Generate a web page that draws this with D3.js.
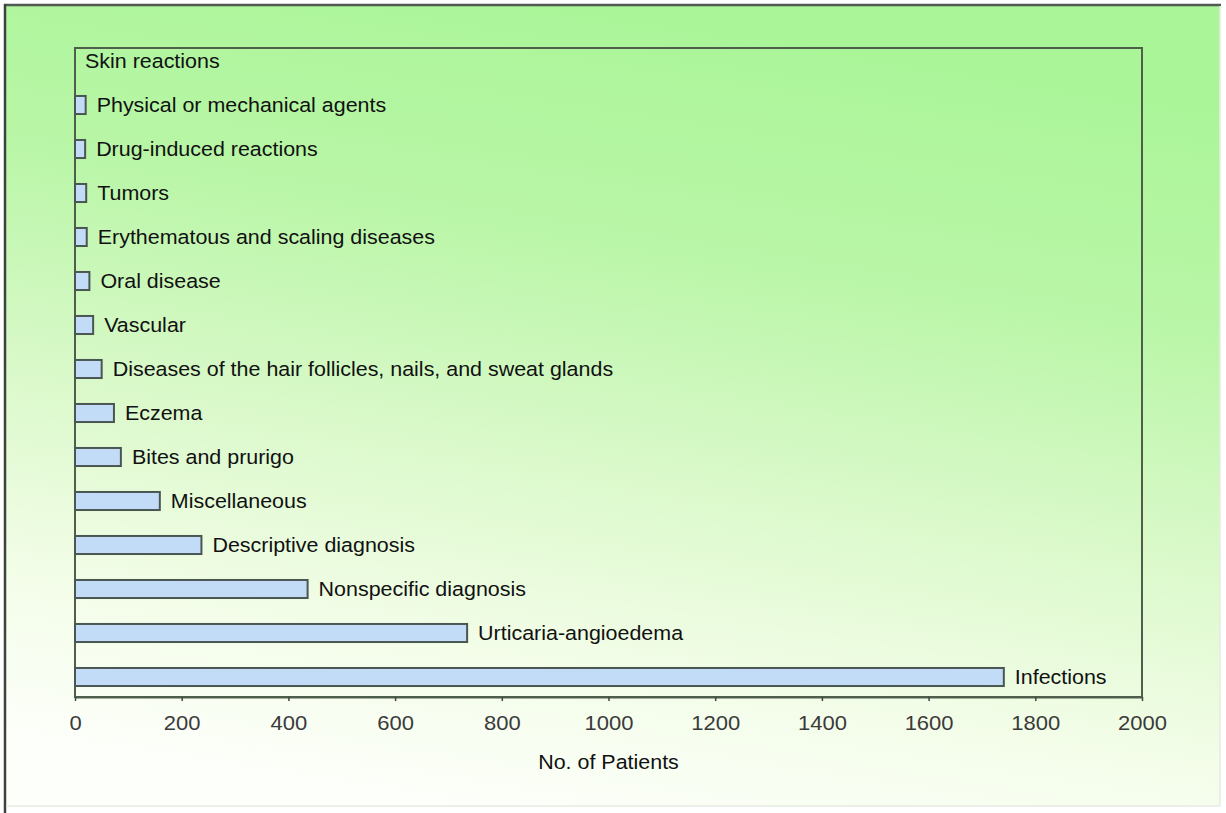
<!DOCTYPE html>
<html>
<head>
<meta charset="utf-8">
<script src="https://cdn.jsdelivr.net/npm/d3@7"></script>
<style>
  html, body { margin: 0; padding: 0; background: #ffffff; }
  svg { display: block; }
  text { font-family: "Liberation Sans", Arial, Helvetica, sans-serif; }
</style>
</head>
<body>
<svg id="chart" width="1226" height="813"></svg>
<script>
// ---- data ----
const categories = [
  "Skin reactions",
  "Physical or mechanical agents",
  "Drug-induced reactions",
  "Tumors",
  "Erythematous and scaling diseases",
  "Oral disease",
  "Vascular",
  "Diseases of the hair follicles, nails, and sweat glands",
  "Eczema",
  "Bites and prurigo",
  "Miscellaneous",
  "Descriptive diagnosis",
  "Nonspecific diagnosis",
  "Urticaria-angioedema",
  "Infections"
];
const patients = [null, 20, 19, 21, 22, 27, 34, 50, 73, 86, 159, 237, 436, 735, 1741];
const xTicks = [0, 200, 400, 600, 800, 1000, 1200, 1400, 1600, 1800, 2000];
const xTitle = "No. of Patients";

// ---- layout ----
const W = 1226, H = 813;
const plot = { left: 75, right: 1142, top: 48, bottom: 697 };
const svg = d3.select("#chart");

const defs = svg.append("defs");
const grad = defs.append("linearGradient").attr("id", "bg")
  .attr("x1", "62%").attr("y1", "0%").attr("x2", "38%").attr("y2", "100%");
grad.append("stop").attr("offset", "0%").attr("stop-color", "#a9f597");
grad.append("stop").attr("offset", "30%").attr("stop-color", "#b9f6a7");
grad.append("stop").attr("offset", "58%").attr("stop-color", "#dbf9cb");
grad.append("stop").attr("offset", "80%").attr("stop-color", "#f2fde7");
grad.append("stop").attr("offset", "100%").attr("stop-color", "#fdfffa");

svg.append("rect").attr("x", 0).attr("y", 0).attr("width", W).attr("height", H).attr("fill", "#ffffff");
svg.append("rect").attr("x", 5).attr("y", 5).attr("width", 1215).attr("height", 801).attr("fill", "url(#bg)");
// bevel frame
svg.append("line").attr("x1", 4).attr("y1", 5).attr("x2", 1221).attr("y2", 5).attr("stroke", "#505a50").attr("stroke-width", 2.5);
svg.append("line").attr("x1", 5).attr("y1", 4).attr("x2", 5).attr("y2", 813).attr("stroke", "#3c423c").attr("stroke-width", 2.5);
svg.append("line").attr("x1", 1220).attr("y1", 6).attr("x2", 1220).attr("y2", 806).attr("stroke", "#e6ebe2").attr("stroke-width", 1.5);
svg.append("line").attr("x1", 6).attr("y1", 806).attr("x2", 1220).attr("y2", 806).attr("stroke", "#e6ebe2").attr("stroke-width", 1.5);

// scales
const x = d3.scaleLinear().domain([0, 2000]).range([plot.left, plot.right]);
const y = d3.scalePoint().domain(categories).range([61, 677]);
const barH = y.step() * 0.41;

// plot frame
svg.append("rect")
  .attr("x", plot.left).attr("y", plot.top)
  .attr("width", plot.right - plot.left).attr("height", plot.bottom - plot.top)
  .attr("fill", "none").attr("stroke", "#4f5f4c").attr("stroke-width", 2);

// bars
const rows = categories.map((c, i) => ({ cat: c, val: patients[i] }));
svg.append("g").selectAll("rect")
  .data(rows.filter(d => d.val !== null))
  .join("rect")
  .attr("x", x(0))
  .attr("y", d => y(d.cat) - barH / 2)
  .attr("width", d => x(d.val) - x(0))
  .attr("height", barH)
  .attr("fill", "#c2dbf7")
  .attr("stroke", "#4a5652")
  .attr("stroke-width", 2);

// category labels
const sx = 1.1;
svg.append("g").selectAll("text")
  .data(rows)
  .join("text")
  .attr("transform", d => {
    const tx = d.val === null ? plot.left + 10 : x(d.val) + 11;
    return `translate(${tx},${y(d.cat)}) scale(${sx},1)`;
  })
  .attr("dy", "0.35em")
  .attr("font-size", 19.5)
  .attr("fill", "#111")
  .text(d => d.cat);

// x axis
const axis = d3.axisBottom(x).tickValues(xTicks).tickSize(4).tickSizeOuter(0).tickFormat(d3.format("d"));
const gx = svg.append("g").attr("transform", `translate(0,${plot.bottom})`).call(axis);
gx.select(".domain").attr("stroke", "#4f5f4c").attr("stroke-width", 2);
gx.selectAll(".tick line").attr("stroke", "#444").attr("stroke-width", 1.5);
gx.selectAll(".tick text")
  .attr("y", 0)
  .attr("dy", 0)
  .attr("transform", `translate(0,26) scale(${sx},1) translate(0,7)`)
  .attr("font-size", 20)
  .attr("fill", "#3a3a3a")
  .attr("font-family", '"Liberation Sans", Arial, sans-serif');

// x title
svg.append("text")
  .attr("transform", `translate(${(plot.left + plot.right) / 2},${762}) scale(${sx},1)`)
  .attr("text-anchor", "middle")
  .attr("dy", "0.35em")
  .attr("font-size", 19.5)
  .attr("fill", "#111")
  .text(xTitle);
</script>
</body>
</html>
